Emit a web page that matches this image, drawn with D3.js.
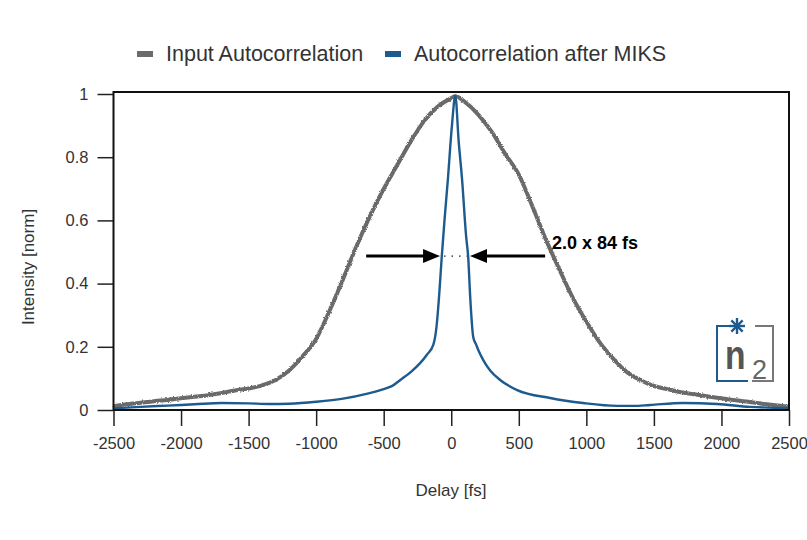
<!DOCTYPE html>
<html>
<head>
<meta charset="utf-8">
<script src="https://cdn.jsdelivr.net/npm/d3@7"></script>
<style>
  body { margin: 0; background: #fff; }
  svg { font-family: "Liberation Sans", Arial, sans-serif; }
</style>
</head>
<body>
<svg id="chart" width="807" height="540"></svg>
<script>
// delay in fs, intensity normalised
const grayDelay = [-2500,-2400,-2300,-2200,-2100,-2000,-1900,-1800,-1700,-1600,-1500,-1400,-1300,-1200,-1100,-1000,-900,-800,-700,-600,-500,-400,-300,-200,-100,0,30,100,200,300,400,500,600,700,800,900,1000,1100,1200,1300,1400,1500,1600,1700,1800,1900,2000,2100,2200,2300,2400,2500];
const grayValue = [0.012,0.018,0.023,0.028,0.032,0.037,0.042,0.047,0.054,0.062,0.068,0.078,0.095,0.125,0.17,0.225,0.315,0.415,0.52,0.615,0.70,0.775,0.85,0.915,0.96,0.987,0.993,0.975,0.935,0.88,0.81,0.745,0.645,0.54,0.445,0.355,0.28,0.213,0.162,0.12,0.095,0.076,0.066,0.056,0.05,0.043,0.037,0.031,0.026,0.02,0.015,0.01];

const blueDelay = [-2500,-2300,-2100,-1900,-1700,-1500,-1350,-1200,-1000,-800,-620,-500,-430,-377,-300,-229,-180,-133,-110,-90,-70,-50,-25,5,30,55,80,110,126,140,163,185,200,237,288,362,488,732,976,1228,1350,1472,1716,1967,2211,2500];
const blueValue = [0.005,0.01,0.014,0.018,0.022,0.021,0.019,0.02,0.026,0.036,0.052,0.066,0.078,0.095,0.12,0.149,0.175,0.206,0.26,0.36,0.487,0.6,0.73,0.9,0.995,0.85,0.73,0.55,0.48,0.36,0.23,0.206,0.19,0.158,0.125,0.095,0.063,0.038,0.022,0.013,0.013,0.016,0.022,0.019,0.01,0.006];

const xTicks = [-2500,-2000,-1500,-1000,-500,0,500,1000,1500,2000,2500];
const yTicks = [0,0.2,0.4,0.6,0.8,1];
const yTickLabels = ["0","0.2","0.4","0.6","0.8","1"];

const seriesNames = ["Input Autocorrelation","Autocorrelation after MIKS"];
const seriesColors = ["#6b6b6b","#1d5a8e"];

// FWHM marker, in data units
const fwhmLevel = 0.487;
const fwhmLeft = [-630,-83];
const fwhmRight = [695,139];
const fwhmLabel = "2.0 x 84 fs";

const svg = d3.select("#chart");
const x = d3.scaleLinear().domain([-2500,2500]).range([113.5,789]);
const y = d3.scaleLinear().domain([0,1]).range([410,94]);

const defs = svg.append("defs");
const filt = defs.append("filter").attr("id","rough")
  .attr("filterUnits","userSpaceOnUse").attr("x",100).attr("y",80).attr("width",700).attr("height",340);
filt.append("feTurbulence").attr("type","fractalNoise").attr("baseFrequency",0.8).attr("numOctaves",1).attr("seed",4).attr("result","n");
filt.append("feDisplacementMap").attr("in","SourceGraphic").attr("in2","n").attr("scale",3)
  .attr("xChannelSelector","R").attr("yChannelSelector","G");

// axes
const xAxis = d3.axisBottom(x).tickValues(xTicks).tickSize(16).tickPadding(11).tickFormat(d3.format("d"));
const yAxis = d3.axisLeft(y).tickValues(yTicks).tickSize(16).tickPadding(9).tickFormat((d,i) => yTickLabels[i]);

const gx = svg.append("g").attr("transform","translate(0,410)").call(xAxis);
const gy = svg.append("g").attr("transform","translate(113.5,0)").call(yAxis);
[gx,gy].forEach(g => {
  g.select(".domain").remove();
  g.selectAll(".tick line").attr("stroke","#222").attr("stroke-width",1.5);
  g.selectAll(".tick text").attr("fill","#333").style("font-size","16.5px");
});
gx.selectAll(".tick text").text(d => d3.format("d")(d).replace("−","-"));

// lines
const line = d3.line().x(d => x(d[0])).y(d => y(d[1])).curve(d3.curveMonotoneX);
const grayData = d3.zip(grayDelay, grayValue);
const blueData = d3.zip(blueDelay, blueValue);

svg.append("path").datum(grayData)
  .attr("d", line).attr("fill","none")
  .attr("stroke",seriesColors[0]).attr("stroke-width",4)
  .attr("filter","url(#rough)");

svg.append("path").datum(blueData)
  .attr("d", line).attr("fill","none")
  .attr("stroke",seriesColors[1]).attr("stroke-width",2.4);

// frame
svg.append("rect")
  .attr("x",x(-2500)).attr("y",92)
  .attr("width",x(2500)-x(-2500)).attr("height",y(0)-92)
  .attr("fill","none").attr("stroke","#111").attr("stroke-width",2);

// FWHM arrows
const ay = y(fwhmLevel);
function arrow(pair){
  const tail = x(pair[0]), tip = x(pair[1]);
  const dir = Math.sign(tip - tail);
  svg.append("line").attr("x1",tail).attr("x2",tip - dir*12).attr("y1",ay).attr("y2",ay)
    .attr("stroke","#000").attr("stroke-width",3);
  svg.append("path")
    .attr("d",`M${tip},${ay} L${tip-dir*17},${ay-7} L${tip-dir*17},${ay+7} Z`)
    .attr("fill","#000");
}
arrow(fwhmLeft);
arrow(fwhmRight);
svg.append("line")
  .attr("x1",x(fwhmLeft[1])+4).attr("x2",x(fwhmRight[1])-3).attr("y1",ay).attr("y2",ay)
  .attr("stroke","#222").attr("stroke-width",1.3).attr("stroke-dasharray","1.5,6");

svg.append("text").attr("x",x(745)).attr("y",y(0.51))
  .attr("font-weight","bold").attr("font-size",18).attr("fill","#000")
  .text(fwhmLabel);

// axis titles
svg.append("text").attr("x",451).attr("y",496).attr("text-anchor","middle")
  .attr("font-size",17).attr("fill","#333").text("Delay [fs]");
svg.append("text").attr("transform","translate(34,267) rotate(-90)").attr("text-anchor","middle")
  .attr("font-size",17).attr("fill","#333").text("Intensity [norm]");

// legend
const legendX = [137,385];
seriesNames.forEach((name,i) => {
  svg.append("rect").attr("x",legendX[i]).attr("y",51).attr("width",16).attr("height",6)
    .attr("fill",seriesColors[i]);
  svg.append("text").attr("x",legendX[i]+29).attr("y",61)
    .attr("font-size",21.5).attr("fill","#333").text(name);
});

// n2 logo
const logo = svg.append("g").attr("transform","translate(717,326)");
logo.append("path").attr("d","M12,0 H0 V55 H31").attr("fill","none").attr("stroke","#1d5a8e").attr("stroke-width",2);
logo.append("path").attr("d","M38,0 H56 V55 H35").attr("fill","none").attr("stroke","#777").attr("stroke-width",2);
const ast = logo.append("g").attr("transform","translate(20,0)");
[0,45,90,135].forEach(a => {
  ast.append("line").attr("x1",0).attr("y1",-8).attr("x2",0).attr("y2",8)
    .attr("transform",`rotate(${a})`).attr("stroke","#1d5a8e").attr("stroke-width",2.4);
});
logo.append("text").attr("transform","translate(8,43) scale(0.8,0.95)")
  .attr("font-size",42).attr("font-weight","bold").attr("fill","#555").text("n");
logo.append("text").attr("x",35).attr("y",53)
  .attr("font-size",27).attr("fill","#666").text("2");
</script>
</body>
</html>
